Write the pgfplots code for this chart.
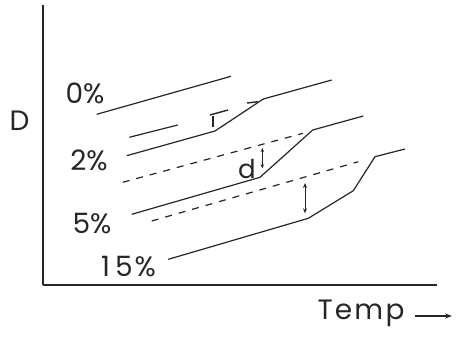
\documentclass[border=0pt]{standalone}
\usepackage{pgfplots}
\pgfplotsset{compat=1.18}
\usepackage{fontspec}
\setmainfont{Poppins}
\usetikzlibrary{arrows.meta}
\begin{document}
\begin{tikzpicture}
\begin{axis}[
  scale only axis, width=394pt, height=280pt,
  xmin=43, xmax=437, ymin=53, ymax=333,
  axis lines=left, axis line style={-, line width=1.3pt, color=black!85},
  xtick=\empty, ytick=\empty, clip=false,
  every axis plot/.append style={line width=1.2pt, color=black!85},
]
\path (axis cs:0,0) rectangle (axis cs:457,338);
% 0%
\addplot[] coordinates {(96.7,223.7) (231,261.7)};
% 2%
\addplot[] coordinates {(129.3,200.7) (177.7,213)};
\addplot[line width=1.4pt] coordinates {(210,223) (228,228)};
\addplot[line width=1.4pt] coordinates {(247,235) (258,236.3)};
\addplot[] coordinates {(126.7,182.3) (215,207) (263.3,239) (331.7,258)};
\addplot[line width=1.6pt] coordinates {(212.7,222) (212.7,211.5)};
% 5%
\addplot[dash pattern=on 7pt off 7pt] coordinates {(122.7,155.7) (303,204.7)};
\addplot[] coordinates {(131.7,123.7) (260,160.7) (312.7,208) (363.3,222)};
\addplot[{Stealth[length=4pt,width=3.5pt]}-{Stealth[length=4pt,width=3.5pt]}, line width=1pt] coordinates {(262.3,190) (262.3,169.7)};
% 15%
\addplot[dash pattern=on 7pt off 7pt] coordinates {(151.7,117) (358.3,176.3)};
\addplot[] coordinates {(168.3,78.7) (308.3,119.7) (353.3,147.3) (375,181.3) (405,189)};
\addplot[{Stealth[length=5pt,width=4pt]}-{Stealth[length=5pt,width=4pt]}, line width=1pt] coordinates {(305,155) (305,124.7)};
% labels
\tikzset{lab/.style={font=\fontsize{28}{30}\selectfont, text=black!85, inner sep=0pt}}
\node[lab] at (axis cs:85,244.5) {0\%};
\node[lab] at (axis cs:89,177.5) {2\%};
\node[lab] at (axis cs:92,114) {5\%};
\node[lab] at (axis cs:128.5,71.5) {1\hspace{5pt}5\hspace{2pt}\%};
\node[lab, font=\fontsize{26}{28}\selectfont] at (axis cs:247,169.5) {d};
\node[lab] at (axis cs:19.5,217) {D};
\node[lab, font=\fontsize{28}{30}\selectfont\addfontfeature{LetterSpace=8}] at (axis cs:361,25) {Temp};
\draw[-{Stealth[length=7pt,width=5pt]}, line width=1.2pt, black!85] (axis cs:415,22) -- (axis cs:452,22);
\end{axis}
\end{tikzpicture}
\end{document}
